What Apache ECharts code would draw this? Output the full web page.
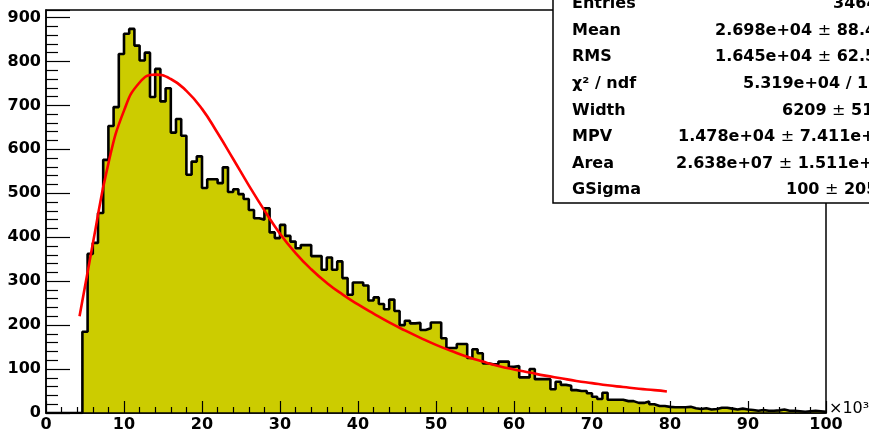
<!DOCTYPE html>
<html>
<head>
<meta charset="utf-8">
<script src="https://cdn.jsdelivr.net/npm/echarts/dist/echarts.min.js"></script>
<style>
html,body{margin:0;padding:0;background:#fff;}
#c{width:869px;height:434px;}
</style>
</head>
<body>
<div id="c"></div>
<script>
// Histogram definition (150 bins over 0..100 x10^3)
const xMin = 0, xMax = 100, nBins = 150;
const binValues = [
  0,0,0,0,0,0,0,185,362,387,
  455,576,653,696,817,863,874,836,802,820,
  719,783,709,739,638,669,631,542,572,584,
  512,532,532,523,559,503,509,498,487,462,
  443,440,466,411,398,428,403,390,375,382,
  382,357,357,326,354,326,345,307,269,297,
  297,290,256,263,248,236,258,232,200,210,
  204,205,189,193,206,206,170,148,148,157,
  157,125,145,136,113,111,111,117,117,105,
  107,81,81,100,77,77,77,54,71,64,
  62,52,50,50,45,37,32,46,30,30,
  30,27,27,23,23,26,20,16,16,14,
  13,13,13,14,11,9,11,8,9,12,
  12,10,8,10,8,7,5,7,5,5,
  6,8,5,5,4,3,4,5,4,3
];
// Fit curve (x in 10^3, y in counts)
const fitX = [4.3, 6, 8, 10, 12, 14, 16, 18, 20, 22, 24, 26, 28, 30, 32, 34, 36, 38, 40, 42, 44, 46, 48, 50, 52, 54, 56, 58, 60, 62, 64, 66, 68, 70, 72, 74, 76, 78, 79.6];
const fitY = [220, 385, 568, 688, 752, 770, 760, 733, 692, 637, 578, 518, 461, 408, 364, 327, 296, 270, 247, 226, 206, 188, 171, 155, 141, 128, 117, 107, 99, 92, 85, 79, 73, 68, 63, 59, 55, 52, 49];
// Axis ticks
const xTicks = [0,10,20,30,40,50,60,70,80,90,100];
const yTicks = [0,100,200,300,400,500,600,700,800,900];
const yMax = 917;
// Stats box
const statLabels = ['Entries','Mean','RMS','\u03c7\u00b2 / ndf','Width','MPV','Area','GSigma'];
const statValues = [
  ['3464'],
  ['2.698e+04 ','\u00b1',' 88.4'],
  ['1.645e+04 ','\u00b1',' 62.5'],
  ['5.319e+04 / 11'],
  ['6209 ','\u00b1',' 51'],
  ['1.478e+04 ','\u00b1',' 7.411e+'],
  ['2.638e+07 ','\u00b1',' 1.511e+0'],
  ['100 ','\u00b1',' 205']
];
const statValueX = [833, 715, 715, 743, 782, 678, 676, 786];

const bw = (xMax - xMin) / nBins;
const histData = binValues.map((v, i) => [xMin + i * bw, v]);
histData.push([xMax, binValues[binValues.length - 1]]);
const fitData = fitX.map((x, i) => [x, fitY[i]]);

const FONT = 'DejaVu Sans';
const chart = echarts.init(document.getElementById('c'), null, {renderer: 'canvas'});

const graphics = [];
graphics.push({
  type: 'rect', z: 100,
  shape: {x: 553, y: -20, width: 340, height: 223},
  style: {fill: '#fff', stroke: '#000', lineWidth: 1.5}
});
statLabels.forEach((lab, i) => {
  const y = 4 + 26.6 * i;
  graphics.push({
    type: 'text', z: 101,
    style: {
      text: lab, x: 572, y: y,
      font: 'bold 16px "' + FONT + '"', fill: '#000',
      textVerticalAlign: 'middle', verticalAlign: 'middle'
    }
  });
  const parts = statValues[i];
  let txt = '';
  parts.forEach(p => {
    if (p === '\u00b1') txt += '{s|\u00b1}';
    else txt += '{b|' + p + '}';
  });
  graphics.push({
    type: 'text', z: 101,
    style: {
      text: txt, x: statValueX[i], y: y,
      textVerticalAlign: 'middle', verticalAlign: 'middle',
      rich: {
        b: {font: 'bold 16px "' + FONT + '"', fill: '#000', color: '#000'},
        s: {font: '16px "' + FONT + '"', fill: '#000', color: '#000'}
      }
    }
  });
});
graphics.push({
  type: 'text', z: 101,
  style: {
    text: '\u00d710\u00b3', x: 829, y: 409,
    font: '16px "' + FONT + '"', fill: '#000',
    textVerticalAlign: 'middle', verticalAlign: 'middle'
  }
});

chart.setOption({
  animation: false,
  backgroundColor: '#fff',
  grid: {left: 46, right: 43, top: 10, bottom: 21, show: true, borderColor: '#000', borderWidth: 1.5, backgroundColor: 'transparent'},
  xAxis: {
    type: 'value', min: xMin, max: xMax, interval: 10, z: 5,
    axisLine: {show: true, onZero: false, lineStyle: {color: '#000', width: 1.5}},
    axisTick: {show: true, inside: true, length: 12, lineStyle: {color: '#000', width: 1.2}},
    minorTick: {show: true, splitNumber: 5, length: 6, lineStyle: {color: '#000', width: 1.2}},
    splitLine: {show: false},
    axisLabel: {
      margin: 4, color: '#000', fontFamily: FONT, fontWeight: 'bold', fontSize: 16,
      formatter: v => xTicks.includes(v) ? String(v) : ''
    }
  },
  yAxis: {
    type: 'value', min: 0, max: yMax, interval: 100, z: 5,
    axisLine: {show: true, onZero: false, lineStyle: {color: '#000', width: 1.5}},
    axisTick: {show: true, inside: true, length: 24, lineStyle: {color: '#000', width: 1.2}},
    minorTick: {show: true, splitNumber: 5, length: 12, lineStyle: {color: '#000', width: 1.2}},
    splitLine: {show: false},
    axisLabel: {
      margin: 5, color: '#000', fontFamily: FONT, fontWeight: 'bold', fontSize: 16,
      showMaxLabel: false,
      formatter: v => yTicks.includes(v) ? String(v) : ''
    }
  },
  series: [
    {
      type: 'line', data: histData, step: 'end', symbol: 'none', z: 2,
      lineStyle: {color: '#000', width: 2.6},
      areaStyle: {color: '#cccc00', opacity: 1}
    },
    {
      type: 'line', data: fitData, smooth: 0.5, symbol: 'none', z: 3,
      lineStyle: {color: '#ff0000', width: 2.6}
    }
  ],
  graphic: graphics
});
</script>
</body>
</html>
